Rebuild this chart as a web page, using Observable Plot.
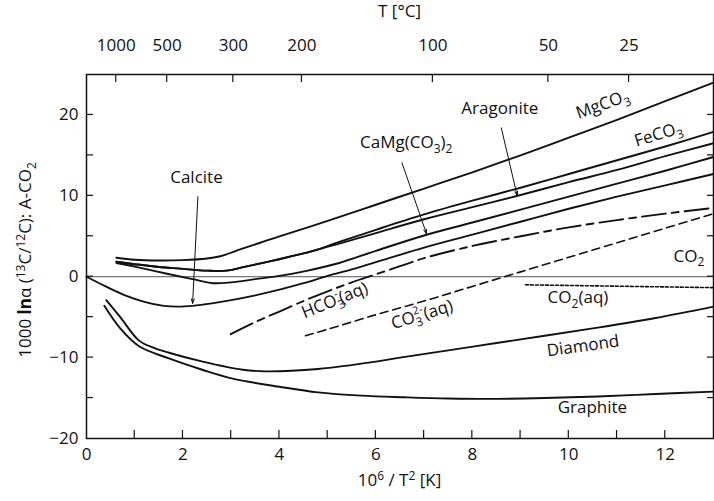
<!DOCTYPE html>
<html><head><meta charset="utf-8">
<script src="https://cdn.jsdelivr.net/npm/d3@7"></script>
<script src="https://cdn.jsdelivr.net/npm/@observablehq/plot@0.6"></script>
<style>
body{margin:0;background:#fff;}
svg{font-family:"Open Sans",sans-serif;}
</style>
</head><body><div id="chart"></div>
<script>
// ---- data (x = 10^6/T^2, y = 1000 ln alpha) ----
const mgco3X = [0.62, 1.0, 1.5, 2.0, 2.5, 2.75, 3.2, 3.6, 4.0, 5.0, 6.0, 7.0, 8.0, 9.0, 10.0, 11.0, 12.0, 13.0];
const mgco3Y = [2.35, 2.1, 2.0, 2.05, 2.25, 2.5, 3.4, 4.2, 5.0, 6.9, 8.9, 10.9, 12.9, 15.0, 17.2, 19.4, 21.7, 24.0];
const feco3X = [0.62, 1.0, 1.5, 1.94, 2.5, 2.9, 3.3, 3.8, 4.3, 4.7, 5.24, 6, 7, 8, 9, 10, 11, 12, 13];
const feco3Y = [1.85, 1.55, 1.2, 1.0, 0.75, 0.75, 1.25, 1.9, 2.6, 3.2, 4.3, 5.8, 7.7, 9.4, 11.0, 12.7, 14.4, 16.1, 17.9];
const aragX  = [0.62, 1.0, 1.5, 1.94, 2.5, 2.9, 3.3, 3.8, 4.3, 4.7, 5.24, 6, 7, 8, 9, 10, 11, 12, 13];
const aragY  = [1.85, 1.55, 1.2, 1.0, 0.75, 0.75, 1.25, 1.9, 2.6, 3.2, 4.1, 5.4, 7.1, 8.6, 10.1, 11.7, 13.2, 14.9, 16.5];
const camgX  = [0.62, 1.0, 1.67, 2.2, 2.62, 3.0, 3.5, 4.0, 4.54, 5.24, 6, 7, 8, 9, 10, 11, 12, 13];
const camgY  = [1.7, 1.25, 0.37, -0.3, -0.8, -0.7, -0.3, 0.1, 0.7, 1.7, 3.2, 5.1, 6.7, 8.3, 9.9, 11.5, 13.1, 14.8];
const calciteX = [0, 0.4, 0.8, 1.2, 1.6, 1.9, 2.2, 2.6, 3.0, 3.5, 4.0, 4.5, 5.0, 5.5, 6, 7, 8, 9, 10, 11, 12, 13];
const calciteY = [0, -1.2, -2.3, -3.1, -3.6, -3.7, -3.6, -3.3, -2.9, -2.3, -1.6, -0.8, 0.1, 0.9, 1.8, 3.6, 5.2, 6.8, 8.4, 9.9, 11.3, 12.7];
const hco3X = [2.99, 3.5, 4.0, 4.5, 5.0, 5.5, 6.0, 6.5, 7.0, 8.0, 9.0, 10.0, 11.0, 12.0, 13.0];
const hco3Y = [-7.1, -5.6, -4.3, -3.0, -1.8, -0.7, 0.3, 1.3, 2.3, 3.8, 5.0, 6.1, 7.0, 7.8, 8.5];
const co3X = [4.54, 5, 6, 7, 8, 9, 10, 11, 12, 13];
const co3Y = [-7.3, -6.5, -4.7, -3.0, -1.2, 0.6, 2.4, 4.2, 6.0, 7.8];
const co2aqX = [9.1, 13];
const co2aqY = [-1.0, -1.35];
const co2X = [0, 13];
const co2Y = [0, 0];
const diamondX = [0.41, 0.7, 1.09, 1.4, 1.71, 2.41, 3.24, 3.71, 4.8, 6.0, 6.5, 7.5, 8.5, 9.5, 10.6, 11.8, 13];
const diamondY = [-2.9, -5.0, -7.9, -8.8, -9.4, -10.5, -11.5, -11.7, -11.4, -10.5, -10.0, -9.1, -8.2, -7.3, -6.3, -5.1, -3.7];
const graphiteX = [0.37, 0.7, 1.09, 1.71, 2.4, 3.03, 4.0, 4.8, 5.7, 6.6, 7.5, 8.5, 9.5, 10.6, 11.8, 13];
const graphiteY = [-3.6, -6.4, -8.6, -10.1, -11.5, -12.6, -13.6, -14.3, -14.7, -14.9, -15.05, -15.1, -15.0, -14.8, -14.5, -14.2];

// axis ticks
const xTickLabels = [0, 2, 4, 6, 8, 10, 12];
const xMinorTicks = [1, 2, 3, 4, 5, 6, 7, 8, 9, 10, 11, 12];
const yTickLabels = [-20, -10, 0, 10, 20];
const yMinorTicks = [-15, -10, -5, 0, 5, 10, 15, 20];
const tempLabels = [1000, 500, 300, 200, 100, 50, 25]; // °C

// arrows (annotation pointers)
const arrowFromX = [2.31, 8.6, 6.54];
const arrowFromY = [9.9, 18.4, 14.1];
const arrowToX = [2.2, 8.93, 7.05];
const arrowToY = [-3.3, 10.0, 5.3];

// ---- build ----
const rows = (xs, ys) => xs.map((x, i) => ({x, y: ys[i]}));
const tempPos = tempLabels.map(t => 1e6 / ((t + 273.15) ** 2));
const tempMap = new Map(tempPos.map((p, i) => [p, String(tempLabels[i])]));
const arrows = arrowFromX.map((x, i) => ({x1: x, y1: arrowFromY[i], x2: arrowToX[i], y2: arrowToY[i]}));

const solid = {x: "x", y: "y", stroke: "#111", strokeWidth: 1.9, curve: "catmull-rom"};

const plot = Plot.plot({
  width: 714, height: 501,
  marginTop: 74, marginBottom: 63, marginLeft: 86, marginRight: 1,
  style: {fontFamily: "'Open Sans', sans-serif", fontSize: "17px", color: "#111", background: "#fff"},
  x: {domain: [0, 13]},
  y: {domain: [-20, 25]},
  marks: [
    Plot.line(rows(co2X, co2Y), {x: "x", y: "y", stroke: "#555", strokeWidth: 1}),
    Plot.line(rows(mgco3X, mgco3Y), solid),
    Plot.line(rows(feco3X, feco3Y), solid),
    Plot.line(rows(aragX, aragY), solid),
    Plot.line(rows(camgX, camgY), solid),
    Plot.line(rows(calciteX, calciteY), solid),
    Plot.line(rows(hco3X, hco3Y), {...solid, strokeDasharray: "24,6,7,6"}),
    Plot.line(rows(co3X, co3Y), {...solid, strokeWidth: 1.6, strokeDasharray: "8,5"}),
    Plot.line(rows(co2aqX, co2aqY), {...solid, strokeWidth: 1.6, strokeDasharray: "3,2"}),
    Plot.line(rows(diamondX, diamondY), solid),
    Plot.line(rows(graphiteX, graphiteY), solid),
    Plot.arrow(arrows, {x1: "x1", y1: "y1", x2: "x2", y2: "y2", stroke: "#111", strokeWidth: 1, headLength: 7, headAngle: 35}),
    Plot.frame({stroke: "#111", strokeWidth: 1.5}),
    Plot.axisX({anchor: "bottom", ticks: xTickLabels, tickSize: 0, tickPadding: 9, label: null, fontSize: 17}),
    Plot.axisX({anchor: "top", ticks: tempPos, tickFormat: d => tempMap.get(d), tickSize: 0, tickPadding: 24, label: null, fontSize: 17}),
    Plot.axisY({anchor: "left", ticks: yTickLabels, tickSize: 0, tickPadding: 8, label: null, fontSize: 17})
  ]
});
document.getElementById("chart").appendChild(plot);

const sx = plot.scale("x"), sy = plot.scale("y");
const svg = d3.select(plot);
const [L, R] = sx.range, [B, T] = sy.range;

// inward ticks
const tg = svg.append("g").attr("stroke", "#111").attr("stroke-width", 1.2);
xMinorTicks.forEach(v => tg.append("line").attr("x1", sx.apply(v)).attr("x2", sx.apply(v)).attr("y1", B).attr("y2", B - 8));
tempPos.forEach(v => tg.append("line").attr("x1", sx.apply(v)).attr("x2", sx.apply(v)).attr("y1", T).attr("y2", T + 8));
yMinorTicks.forEach(v => {
  tg.append("line").attr("x1", L).attr("x2", L + 7).attr("y1", sy.apply(v)).attr("y2", sy.apply(v));
  tg.append("line").attr("x1", R - 6).attr("x2", R).attr("y1", sy.apply(v)).attr("y2", sy.apply(v));
});

// rich text helper: parts = [[kind, text], ...] kind: n (normal), b (bold), sub, sup, subsup
function rich(px, py, parts, {size = 17, rotate = 0, anchor = "middle"} = {}) {
  const t = svg.append("text")
    .attr("transform", `translate(${px},${py}) rotate(${rotate})`)
    .attr("text-anchor", anchor).attr("fill", "#111")
    .attr("font-size", size).attr("dy", "0.35em");
  let shift = 0;
  const sub = Math.round(size * 0.72), subDy = size * 0.28, supDy = -size * 0.38;
  parts.forEach(([k, s, s2]) => {
    if (k === "n" || k === "b") {
      t.append("tspan").attr("dy", -shift).attr("font-weight", k === "b" ? 700 : null).text(s); shift = 0;
    } else if (k === "sub") {
      t.append("tspan").attr("dy", subDy - shift).attr("font-size", sub).text(s); shift = subDy;
    } else if (k === "sup") {
      t.append("tspan").attr("dy", supDy - shift).attr("font-size", sub).text(s); shift = supDy;
    } else if (k === "subsup") {
      t.append("tspan").attr("dy", subDy - shift).attr("font-size", sub).text(s);
      t.append("tspan").attr("dx", -sub * 0.58).attr("dy", supDy - subDy - 1).attr("font-size", sub - 1).text(s2);
      shift = supDy - 1;
    }
  });
  return t;
}
const P = (x, y) => [sx.apply(x), sy.apply(y)];

// curve labels
rich(...P(2.29, 11.5), [["n", "Calcite"]]);
rich(...P(8.58, 20.1), [["n", "Aragonite"]]);
rich(...P(6.64, 15.8), [["n", "CaMg(CO"], ["sub", "3"], ["n", ")"], ["sub", "2"]]);
rich(...P(10.75, 20.6), [["n", "MgCO"], ["sub", "3"]], {rotate: -20});
rich(...P(11.9, 16.9), [["n", "FeCO"], ["sub", "3"]], {rotate: -17});
rich(...P(12.5, 1.8), [["n", "CO"], ["sub", "2"]]);
rich(...P(10.2, -3.3), [["n", "CO"], ["sub", "2"], ["n", "(aq)"]]);
rich(...P(7.0, -5.4), [["n", "CO"], ["subsup", "3", "2-"], ["n", "(aq)"]], {rotate: -17});
rich(...P(5.2, -3.6), [["n", "HCO"], ["subsup", "3", "-"], ["n", "(aq)"]], {rotate: -22});
rich(...P(10.32, -9.3), [["n", "Diamond"]], {rotate: -8});
rich(...P(10.5, -16.9), [["n", "Graphite"]]);

// axis titles
rich((L + R) / 2, 486, [["n", "10"], ["sup", "6"], ["n", " / T"], ["sup", "2"], ["n", " [K]"]], {size: 17});
rich((L + R) / 2, 17, [["n", "T [°C]"]], {size: 17});
rich(31, (T + B) / 2 + 4, [["n", "1000 "], ["b", "ln"], ["n", "α ("], ["sup", "13"], ["n", "C/"], ["sup", "12"], ["n", "C): A-CO"], ["sub", "2"]], {size: 17, rotate: -90});
</script>
</body></html>
